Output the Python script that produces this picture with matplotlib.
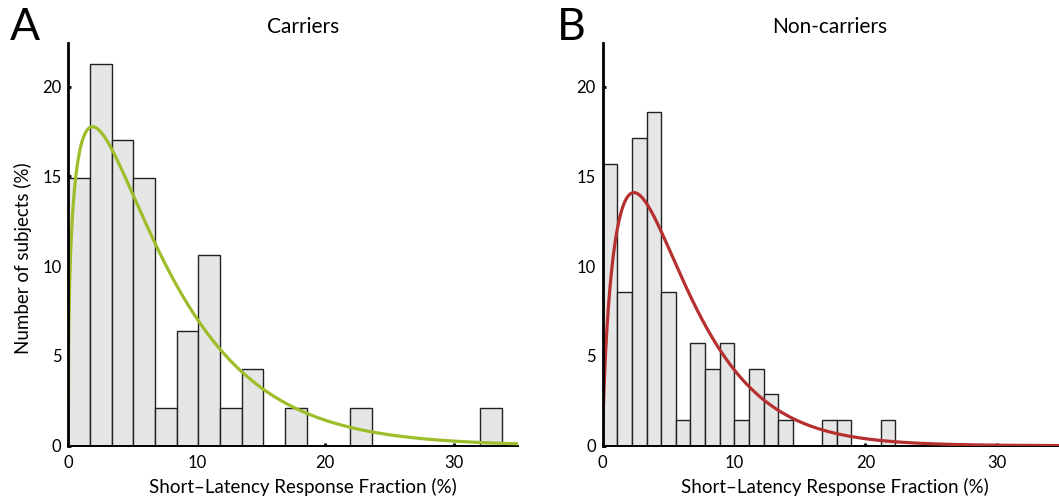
import numpy as np
import matplotlib
matplotlib.use("Agg")
import matplotlib.pyplot as plt

plt.rcParams['font.family'] = ['Lato', 'DejaVu Sans']

# ---------------- data ----------------
carrier_counts = [7, 10, 8, 7, 1, 3, 5, 1, 2, 0, 1, 0, 0, 1, 0, 0, 0, 0, 0, 1]
carrier_max = 33.72          # upper edge of last bin (%)
noncarrier_counts = [11, 6, 12, 13, 6, 1, 4, 3, 4, 1, 3, 2, 1, 0, 0, 1, 1, 0, 0, 1]
noncarrier_max = 22.27

# gamma fits: (shape k, scale theta, peak height %)
carrier_fit = (1.35, 5.4, 17.77)
noncarrier_fit = (1.68, 3.5, 14.1)

x_ticks = [0, 10, 20, 30]
y_ticks = [0, 5, 10, 15, 20]
titles = ["Carriers", "Non-carriers"]
letters = ["A", "B"]
xlabel = "Short\u2013Latency Response Fraction (%)"
ylabel = "Number of subjects (%)"
colors = ["#9dbd2a", "#b5302f"]

W, H = 1059, 498
fig = plt.figure(figsize=(W / 100, H / 100), dpi=100)


def px_axes(left, right, bottom, top):
    return fig.add_axes([left / W, 1 - bottom / H, (right - left) / W, (bottom - top) / H])


axes = [px_axes(68.3, 518.0, 445.7, 43.3), px_axes(602.7, 1062.3, 445.7, 43.3)]
panels = [(carrier_counts, carrier_max, carrier_fit), (noncarrier_counts, noncarrier_max, noncarrier_fit)]

for i, (ax, (counts, cmax, fit)) in enumerate(zip(axes, panels)):
    counts = np.asarray(counts, dtype=float)
    n = counts.sum()
    pct = counts / n * 100
    nb = len(counts)
    edges = np.linspace(0, cmax, nb + 1)
    width = edges[1] - edges[0]
    ax.bar(edges[:-1], pct, width=width, align='edge', color='#e6e6e6',
           edgecolor='#222222', linewidth=1.0, zorder=2)

    k, theta, peak = fit
    mode = (k - 1) * theta
    xs = np.linspace(0, 35, 3000)
    ys = peak * (xs / mode) ** (k - 1) * np.exp(-(xs - mode) / theta)
    ax.plot(xs, ys, color=colors[i], lw=2.3, zorder=3, solid_capstyle='butt')

    ax.set_xlim(0, 35)
    ax.set_ylim(0, 22.42)
    ax.set_xticks(x_ticks)
    ax.set_yticks(y_ticks)
    for s in ['top', 'right']:
        ax.spines[s].set_visible(False)
    ax.spines['left'].set_linewidth(2.0)
    ax.spines['bottom'].set_linewidth(1.4)
    ax.spines['left'].set_zorder(4)
    ax.tick_params(direction='in', length=2.5, width=2.0, labelsize=12, pad=5,
                   colors='black')
    ax.tick_params(axis='x', pad=7)
    ax.patch.set_alpha(0)

fig.text(302.5 / W, 1 - 487 / H, xlabel, fontsize=13.5, ha='center', va='center')
fig.text(835 / W, 1 - 487 / H, xlabel, fontsize=13.5, ha='center', va='center')
fig.text(22.5 / W, 1 - 258 / H, ylabel, rotation=90, fontsize=13.5,
         ha='center', va='center')
fig.text(303.5 / W, 1 - 27 / H, titles[0], fontsize=15, ha='center', va='center')
fig.text(830 / W, 1 - 27 / H, titles[1], fontsize=15, ha='center', va='center')
fig.text(24.5 / W, 1 - 28 / H, letters[0], fontsize=32, ha='center', va='center')
fig.text(571.5 / W, 1 - 28 / H, letters[1], fontsize=32, ha='center', va='center')

fig.savefig("out.png", dpi=100)
